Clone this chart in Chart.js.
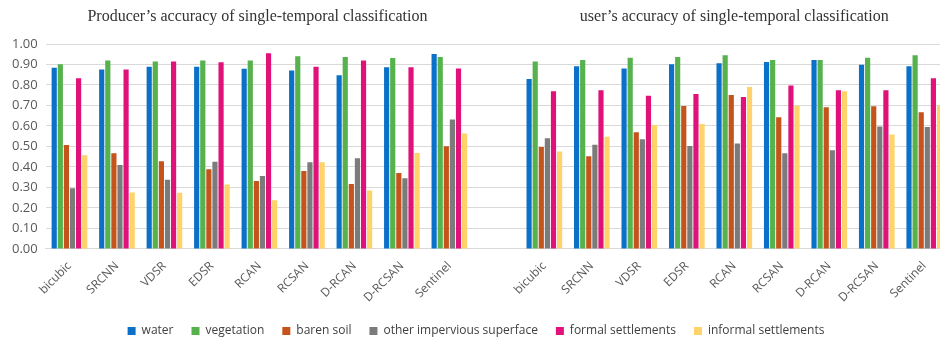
<!DOCTYPE html>
<html>
<head>
<meta charset="utf-8">
<script src="https://cdn.jsdelivr.net/npm/chart.js@4.4.1/dist/chart.umd.min.js"></script>
<style>
  html, body { margin: 0; padding: 0; background: #fff; overflow: hidden; }
  #wrap { width: 948px; height: 338px; }
</style>
</head>
<body>
<div id="wrap"><canvas id="myChart" width="948" height="338"></canvas></div>
<script>
// methods, with an empty slot between producer's and user's accuracy
const methods = ['bicubic', 'SRCNN', 'VDSR', 'EDSR', 'RCAN', 'RCSAN', 'D-RCAN', 'D-RCSAN', 'Sentinel'];
const labels = methods.concat([''], methods);

const titles = ['Producer\u2019s accuracy of single-temporal classification', 'user\u2019s accuracy of single-temporal classification'];
const yTicks = [0, 0.1, 0.2, 0.3, 0.4, 0.5, 0.6, 0.7, 0.8, 0.9, 1.0];

// producer's accuracy | gap | user's accuracy
const water = [0.884, 0.876, 0.889, 0.889, 0.879, 0.871, 0.847, 0.886, 0.951, null,
  0.829, 0.891, 0.880, 0.901, 0.906, 0.912, 0.922, 0.899, 0.891];
const vegetation = [0.901, 0.919, 0.914, 0.919, 0.919, 0.940, 0.937, 0.932, 0.937, null,
  0.915, 0.922, 0.933, 0.937, 0.945, 0.922, 0.922, 0.933, 0.945];
const barenSoil = [0.507, 0.467, 0.428, 0.389, 0.332, 0.380, 0.317, 0.371, 0.501, null,
  0.498, 0.452, 0.569, 0.698, 0.751, 0.642, 0.691, 0.696, 0.667];
const otherImpervious = [0.296, 0.410, 0.338, 0.426, 0.356, 0.423, 0.442, 0.345, 0.631, null,
  0.540, 0.509, 0.535, 0.502, 0.515, 0.467, 0.481, 0.598, 0.595];
const formalSettlements = [0.833, 0.876, 0.914, 0.911, 0.955, 0.889, 0.919, 0.886, 0.880, null,
  0.769, 0.774, 0.748, 0.756, 0.741, 0.798, 0.774, 0.774, 0.833];
const informalSettlements = [0.457, 0.276, 0.274, 0.314, 0.237, 0.423, 0.285, 0.468, 0.563, null,
  0.475, 0.548, 0.605, 0.610, 0.790, 0.699, 0.769, 0.558, 0.700];

const seriesNames = ['water', 'vegetation', 'baren soil', 'other impervious superface', 'formal settlements', 'informal settlements'];
const seriesData = [water, vegetation, barenSoil, otherImpervious, formalSettlements, informalSettlements];
const colors = ['#0b70c7', '#55b24c', '#c4541c', '#7b7b7b', '#e0127a', '#fdd36a'];

// two panel titles centred over each half of the category axis
const panelTitles = {
  id: 'panelTitles',
  afterDraw(chart) {
    const x = chart.scales.x;
    const c = chart.ctx;
    c.save();
    c.font = '16px "Liberation Serif"';
    c.fillStyle = '#333333';
    c.textAlign = 'center';
    c.textBaseline = 'middle';
    const left = (x.getPixelForValue(0) + x.getPixelForValue(8)) / 2;
    const right = (x.getPixelForValue(10) + x.getPixelForValue(18)) / 2;
    c.fillText(titles[0], left - 2, 17);
    c.fillText(titles[1], right, 17);
    c.restore();
  }
};

const ctx = document.getElementById('myChart');

new Chart(ctx, {
  type: 'bar',
  data: {
    labels: labels,
    datasets: seriesNames.map(function (name, i) {
      return {
        label: name,
        data: seriesData[i],
        backgroundColor: colors[i],
        categoryPercentage: 0.77,
        barPercentage: 0.85
      };
    })
  },
  options: {
    responsive: false,
    animation: false,
    layout: {
      padding: { top: 44, left: 4, right: 0, bottom: -9 }
    },
    plugins: {
      legend: {
        position: 'bottom',
        labels: {
          boxWidth: 8,
          boxHeight: 8,
          padding: 18,
          color: '#404040',
          font: { family: '"Open Sans"', size: 12 }
        }
      },
      tooltip: { enabled: false }
    },
    scales: {
      y: {
        min: 0,
        max: 1,
        afterBuildTicks: function (axis) {
          axis.ticks = yTicks.map(function (v) { return { value: v }; });
        },
        ticks: {
          color: '#595959',
          padding: 8,
          font: { family: '"Open Sans"', size: 13 },
          callback: function (v) { return v.toFixed(2); }
        },
        grid: { color: '#d9d9d9', drawTicks: false },
        border: { display: false }
      },
      x: {
        ticks: {
          autoSkip: false,
          maxRotation: 45,
          minRotation: 45,
          padding: 2,
          color: '#595959',
          font: { family: '"Open Sans"', size: 12 }
        },
        grid: { display: false },
        border: { color: '#d9d9d9' }
      }
    }
  },
  plugins: [panelTitles]
});
</script>
</body>
</html>
